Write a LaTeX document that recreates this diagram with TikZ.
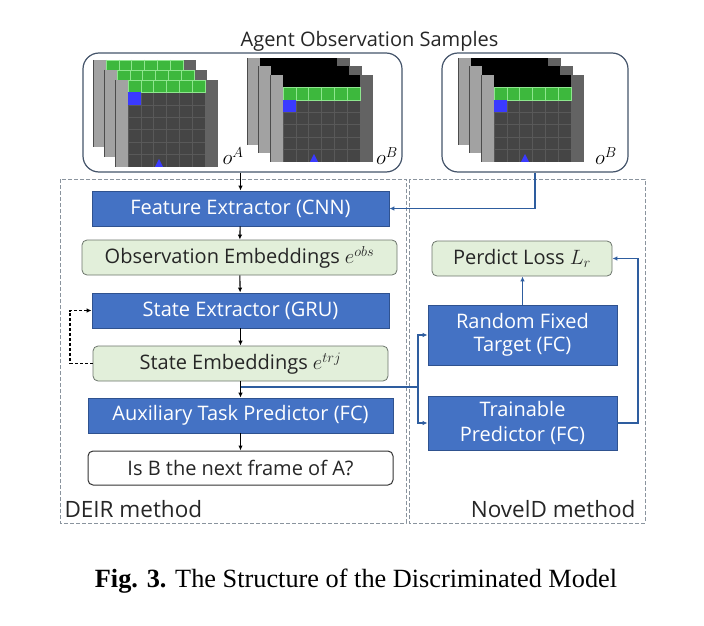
\documentclass[tikz,border=0pt]{standalone}
\usepackage{fontspec}
\setmainfont{Open Sans}
\newfontfamily\capfont{Liberation Serif}
\usetikzlibrary{arrows.meta, positioning}

\definecolor{boxblue}{HTML}{4472C4}
\definecolor{boxedge}{HTML}{2F528F}
\definecolor{embgreen}{HTML}{E2EFDA}
\definecolor{embedge}{HTML}{6B746B}
\definecolor{linkblue}{HTML}{2E5D9F}
\definecolor{regiongray}{HTML}{8A949E}
\definecolor{sampleedge}{HTML}{44546A}
\definecolor{cellgreen}{HTML}{3DB83D}
\definecolor{cellline}{HTML}{8EE68E}
\definecolor{floorgray}{HTML}{454545}
\definecolor{wallgray}{HTML}{A2A2A2}
\definecolor{sidegray}{HTML}{636363}
\definecolor{agentblue}{HTML}{3A3AFF}

% one observation frame: x, y, number of black rows on top (0 or 1)
\newcommand{\obsframe}[3]{%
  \begin{scope}[shift={(#1,#2)}]
    \fill[floorgray] (0,0) rectangle (103,86.8);
    \fill[wallgray] (0,0) rectangle (12.9,86.8);
    \draw[gray!60!black, line width=0.4pt] (0,0) -- (0,86.8);
    \fill[sidegray] (90.1,0) rectangle (103,86.8);
    \foreach \k in {1,...,6}
      \draw[gray!70!black, line width=0.5pt] (12.9*\k,0) -- (12.9*\k,86.8);
    \foreach \k in {1,...,6}
      \draw[gray!70!black, line width=0.5pt] (12.9,12.4*\k) -- (90.1,12.4*\k);
    \ifnum#3=1
      \fill[black] (12.9,0) rectangle (90.1,12.4);
    \fi
    \fill[cellgreen] (12.9,12.4*#3) rectangle (90.1,12.4*#3+12.4);
    \foreach \k in {2,...,6}
      \draw[cellline, line width=0.5pt] (12.9*\k,12.4*#3) -- (12.9*\k,12.4*#3+12.4);
    \draw[cellline, line width=0.5pt] (12.9,12.4*#3) rectangle (90.1,12.4*#3+12.4);
    \fill[agentblue] (12.9,12.4*#3+12.4) rectangle (25.8,12.4*#3+24.8);
    \fill[agentblue] (40,86.8) -- (44,79) -- (48,86.8) -- cycle;
  \end{scope}}

\begin{document}
\begin{tikzpicture}[x=1pt, y=-1pt,
    bluebox/.style={draw=boxedge, fill=boxblue, text=white, line width=0.8pt,
      font=\fontsize{20}{23}\selectfont, inner sep=0pt, align=center},
    embbox/.style={draw=embedge, fill=embgreen, text=black!85, rounded corners=5pt,
      line width=0.8pt, font=\fontsize{20}{23}\selectfont, inner sep=0pt},
    ansbox/.style={draw=black!80, fill=white, text=black!85, rounded corners=5pt,
      line width=1pt, font=\fontsize{20}{23}\selectfont, inner sep=0pt},
    samplebox/.style={draw=sampleedge, rounded corners=16pt, line width=1.2pt, inner sep=0pt},
    region/.style={draw=regiongray, dash pattern=on 4pt off 2pt, line width=1pt},
    flow/.style={-{Latex[length=5pt,width=4.5pt]}, line width=1.1pt},
    link/.style={flow, draw=linkblue, line width=1.4pt}]
  \useasboundingbox (0,0) rectangle (704,626);

  % Observation samples
  \node[anchor=base, font=\fontsize{20}{23}\selectfont, text=black!85] (title) at (369.5,47) {Agent Observation Samples};
  \node[samplebox, minimum width=319pt, minimum height=119pt] (obsL) at (242.5,112.5) {};
  \node[samplebox, minimum width=186pt, minimum height=119pt] (obsR) at (535,112.5) {};

  \foreach \i in {0,1,2}
    \obsframe{93+11*\i}{60+10*\i}{0};
  \foreach \i in {0,1,2}
    \obsframe{247+11.5*\i}{58+8.5*\i}{1};
  \foreach \i in {0,1,2}
    \obsframe{458+11.5*\i}{58+8.5*\i}{1};

  \node[font=\fontsize{20}{22}\selectfont] (labA) at (233,156) {$o^A$};
  \node[font=\fontsize{20}{22}\selectfont] (labB) at (387,156) {$o^B$};
  \node[font=\fontsize{20}{22}\selectfont] (labC) at (606,156) {$o^B$};

  % Method regions
  \draw[region] (60,179) rectangle (406,523);
  \draw[region] (409,179) rectangle (645,523);
  \node[anchor=base west, font=\fontsize{22.5}{25}\selectfont, text=black!85] (deir) at (61,517) {DEIR method};
  \node[anchor=base east, font=\fontsize{22.5}{25}\selectfont, text=black!85] (noveld) at (639,517) {NovelD method};

  % DEIR pipeline
  \node[bluebox, minimum width=297pt, minimum height=35pt] (feat) at (240.5,208.5) {Feature Extractor (CNN)};
  \node[embbox, minimum width=315pt, minimum height=35pt] (obsemb) at (239.5,257.5) {Observation Embeddings $e^{obs}$};
  \node[bluebox, minimum width=297pt, minimum height=35pt] (stext) at (240.5,310.5) {State Extractor (GRU)};
  \node[embbox, minimum width=295pt, minimum height=35pt] (stemb) at (240.5,363.5) {State Embeddings $e^{trj}$};
  \node[bluebox, minimum width=305pt, minimum height=35pt] (aux) at (240.5,415.5) {Auxiliary Task Predictor (FC)};
  \node[ansbox, minimum width=305pt, minimum height=34pt] (answer) at (240.5,468) {Is B the next frame of A?};

  % NovelD pipeline
  \node[embbox, minimum width=180pt, minimum height=35pt] (loss) at (522,258.5) {Perdict Loss $L_r$};
  \node[bluebox, minimum width=189pt, minimum height=60pt, font=\fontsize{20}{23}\selectfont] (rand) at (522.5,335) {Random Fixed\\Target (FC)};
  \node[bluebox, minimum width=189pt, minimum height=54pt, font=\fontsize{20}{25}\selectfont] (train) at (522.5,423) {Trainable\\Predictor (FC)};

  % Connectors
  \draw[flow] (obsL.south -| feat.north) -- (feat.north);
  \draw[flow] (feat) -- (obsemb);
  \draw[flow] (obsemb) -- (stext);
  \draw[flow] (stext) -- (stemb);
  \draw[flow] (stemb) -- (aux);
  \draw[flow] (aux) -- (answer);

  \coordinate (loopL) at (70,0);
  \draw[flow, dash pattern=on 3pt off 2pt, line width=1.3pt] (stemb.west) -- (stemb.west -| loopL) |- (stext.west);

  \draw[link] (obsR.south) |- (feat.east);

  \coordinate (fork) at (240.5,387);
  \coordinate (split) at (418,387);
  \draw[link, -] (fork) -- (split);
  \draw[link] (split) |- (rand.west);
  \draw[link] (split) |- (train.west);
  \draw[link] (rand.north) -- (rand.north |- loss.south);

  \coordinate (loopR) at (638,0);
  \draw[link] (train.east) -- (train.east -| loopR) |- (loss.east);

  % Caption
  \node[anchor=base, font=\capfont\fontsize{26.3}{30}\selectfont] (caption) at (356,587)
    {\textbf{Fig. 3.} The Structure of the Discriminated Model};
\end{tikzpicture}
\end{document}
